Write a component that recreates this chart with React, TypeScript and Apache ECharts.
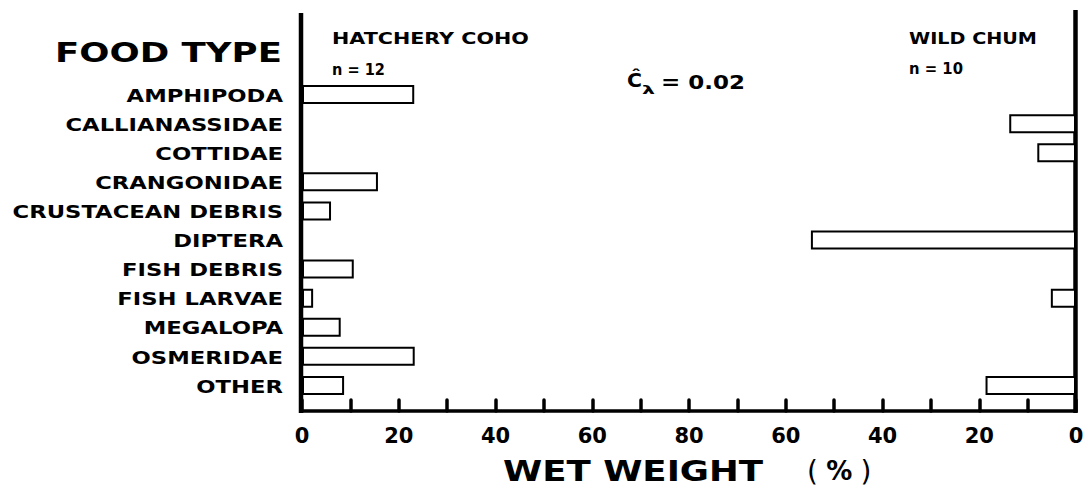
import React, { useEffect, useRef } from 'react';
import * as echarts from 'echarts';

const categories = [
  'AMPHIPODA',
  'CALLIANASSIDAE',
  'COTTIDAE',
  'CRANGONIDAE',
  'CRUSTACEAN DEBRIS',
  'DIPTERA',
  'FISH DEBRIS',
  'FISH LARVAE',
  'MEGALOPA',
  'OSMERIDAE',
  'OTHER',
];

// Wet weight (%) — hatchery coho (left, n = 12)
const hatcheryCoho: (number | string)[] = [23.2, '-', '-', 15.7, 6.0, '-', 10.7, 2.3, 8.0, 23.3, 8.7];
// Wet weight (%) — wild chum (right, n = 10)
const wildChum: (number | string)[] = ['-', 13.8, 8.0, '-', '-', 54.8, '-', 5.2, '-', '-', 18.7];

const bottomTickLabels = ['0', '20', '40', '60', '80', '60', '40', '20', '0'];

const FONT = 'DejaVu Sans';

export default function App() {
  const ref = useRef<HTMLDivElement>(null);

  useEffect(() => {
    const chart = echarts.init(ref.current!, null, { renderer: 'svg' });
    const ctx = document.createElement('canvas').getContext('2d')!;
    const measure = (t: string, size: number, weight: string) => {
      ctx.font = `${weight} ${size}px "${FONT}"`;
      return ctx.measureText(t).width || 1;
    };
    const fitted = (text: string, left: number, cy: number, size: number, width: number, weight = 'bold') => ({
      type: 'text',
      x: left,
      y: cy,
      scaleX: width / measure(text, size, weight),
      silent: true,
      style: {
        text,
        x: 0,
        y: 0,
        align: 'left',
        verticalAlign: 'middle',
        fontFamily: FONT,
        fontSize: size,
        fontWeight: weight,
        fill: '#000',
      },
    });

    const option: any = {
      animation: false,
      backgroundColor: '#fff',
      grid: { left: 302, right: 12, top: 80, bottom: 88, containLabel: false },
      xAxis: [
        {
          type: 'value',
          min: 0,
          max: 160,
          interval: 10,
          position: 'bottom',
          offset: 11,
          axisLine: { show: true, lineStyle: { color: '#000', width: 3.5 } },
          axisTick: { show: true, inside: true, length: 11, lineStyle: { color: '#000', width: 3.5, cap: 'round' } },
          splitLine: { show: false },
          axisLabel: {
            show: true,
            margin: 14,
            showMinLabel: true,
            showMaxLabel: true,
            fontFamily: FONT,
            fontWeight: 'bold',
            fontSize: 21,
            color: '#000',
            formatter: (v: number) => (v % 20 === 0 ? bottomTickLabels[v / 20] : ''),
          },
        },
        {
          type: 'value',
          min: 0,
          max: 160,
          inverse: true,
          show: false,
          splitLine: { show: false },
        },
      ],
      yAxis: {
        type: 'category',
        data: categories,
        inverse: true,
        axisLine: { show: false },
        axisTick: { show: false },
        axisLabel: { show: false },
        splitLine: { show: false },
      },
      series: [
        {
          name: 'HATCHERY COHO',
          type: 'bar',
          xAxisIndex: 0,
          yAxisIndex: 0,
          data: hatcheryCoho,
          barWidth: 19,
          barGap: '-100%',
          itemStyle: { color: '#fff', borderColor: '#000', borderWidth: 2 },
        },
        {
          name: 'WILD CHUM',
          type: 'bar',
          xAxisIndex: 1,
          yAxisIndex: 0,
          data: wildChum,
          barWidth: 19,
          barGap: '-100%',
          itemStyle: { color: '#fff', borderColor: '#000', borderWidth: 2 },
        },
      ],
    };
    chart.setOption(option);

    const xLeft = chart.convertToPixel({ xAxisIndex: 0 }, 0) as number;
    const xRight = chart.convertToPixel({ xAxisIndex: 0 }, 160) as number;

    const labelEls = categories.map((c) => {
      const y = chart.convertToPixel({ yAxisIndex: 0 }, c) as number;
      return {
        type: 'text',
        x: 283,
        y: y + 1,
        scaleX: 1.26,
        silent: true,
        style: {
          text: c,
          x: 0,
          y: 0,
          align: 'right',
          verticalAlign: 'middle',
          fontFamily: FONT,
          fontSize: 18,
          fontWeight: 'bold',
          fill: '#000',
        },
      };
    });

    const graphic: any[] = [
      {
        type: 'line',
        silent: true,
        shape: { x1: xLeft - 1, y1: 13, x2: xLeft - 1, y2: 413 },
        style: { stroke: '#000', lineWidth: 4.5 },
      },
      {
        type: 'line',
        silent: true,
        shape: { x1: xRight - 0.5, y1: 10, x2: xRight - 0.5, y2: 413 },
        style: { stroke: '#000', lineWidth: 4.5 },
      },
      ...labelEls,
      fitted('FOOD TYPE', 55, 53, 27, 227),
      fitted('HATCHERY COHO', 332, 39, 15, 197),
      fitted('n = 12', 332, 69, 15, 53),
      fitted('WILD CHUM', 909, 39, 15, 128),
      fitted('n = 10', 909, 69, 15, 54),
      fitted('Ĉ', 627, 81, 19, 15),
      fitted('λ', 642, 89, 13, 13),
      fitted('= 0.02', 661, 82, 19, 84),
      fitted('WET WEIGHT', 503, 471, 28, 260),
      {
        type: 'text',
        x: 807,
        y: 471,
        silent: true,
        style: {
          text: '{p|(} {b|%} {p|)}',
          x: 0,
          y: 0,
          align: 'left',
          verticalAlign: 'middle',
          fontFamily: FONT,
          fontSize: 26,
          fill: '#000',
          rich: {
            p: { fontFamily: FONT, fontSize: 28, fontWeight: 'normal', fill: '#000' },
            b: { fontFamily: FONT, fontSize: 26, fontWeight: 'bold', fill: '#000' },
          },
        },
      },
    ];
    chart.setOption({ graphic });

    return () => chart.dispose();
  }, []);

  return (
    <div
      ref={ref}
      style={{ position: 'fixed', left: 0, top: 0, width: 1088, height: 488, background: '#fff' }}
    />
  );
}
